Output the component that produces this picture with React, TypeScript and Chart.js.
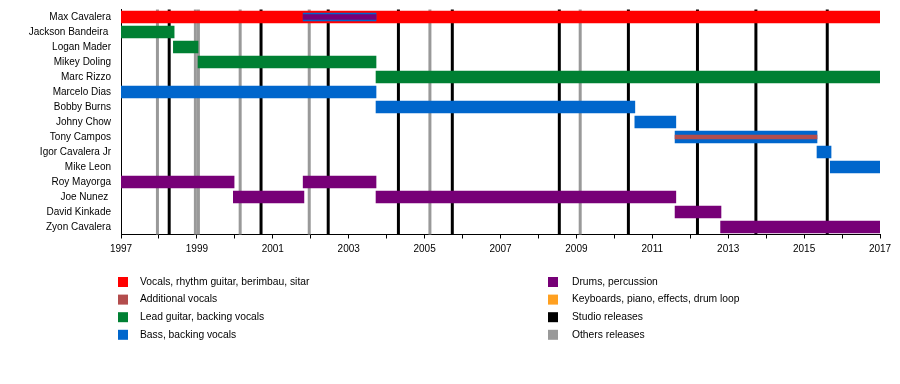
import React, { useEffect, useRef } from 'react';
import { Chart, registerables } from 'chart.js';

Chart.register(...registerables);

// ---------- data ----------
const members = [
  'Max Cavalera',
  'Jackson Bandeira ',
  'Logan Mader',
  'Mikey Doling',
  'Marc Rizzo',
  'Marcelo Dias',
  'Bobby Burns',
  'Johny Chow',
  'Tony Campos',
  'Igor Cavalera Jr',
  'Mike Leon',
  'Roy Mayorga',
  'Joe Nunez ',
  'David Kinkade',
  'Zyon Cavalera',
];

type Span = [string, number, number];

const vocalsSpans: Span[] = [['Max Cavalera', 1997, 2017]];
const additionalVocalsSpans: Span[] = [['Tony Campos', 2011.6, 2015.34]];
const leadGuitarSpans: Span[] = [
  ['Jackson Bandeira ', 1997, 1998.4],
  ['Logan Mader', 1998.38, 1999.03],
  ['Mikey Doling', 1999.03, 2003.72],
  ['Marc Rizzo', 2003.72, 2017],
];
const bassSpans: Span[] = [
  ['Marcelo Dias', 1997, 2003.72],
  ['Bobby Burns', 2003.72, 2010.54],
  ['Johny Chow', 2010.54, 2011.62],
  ['Tony Campos', 2011.6, 2015.34],
  ['Igor Cavalera Jr', 2015.34, 2015.71],
  ['Mike Leon', 2015.69, 2017],
];
const bassSecondarySpans: Span[] = [['Max Cavalera', 2001.8, 2003.72]];
const drumsSpans: Span[] = [
  ['Roy Mayorga', 1997, 1999.98],
  ['Roy Mayorga', 2001.8, 2003.72],
  ['Joe Nunez ', 1999.96, 2001.82],
  ['Joe Nunez ', 2003.72, 2011.62],
  ['David Kinkade', 2011.6, 2012.81],
  ['Zyon Cavalera', 2012.8, 2017],
];
const drumsSecondarySpans: Span[] = [['Max Cavalera', 2001.8, 2003.72]];

const studioReleases = [1998.27, 2000.69, 2002.46, 2004.31, 2005.73, 2008.55, 2010.37, 2012.19, 2013.73, 2015.61];
const otherReleases = [1997.96, 1998.96, 1999.04, 2000.14, 2001.96, 2005.14, 2009.1];

const xMin = 1997;
const xMax = 2017;

const legendLeft = [
  'Vocals, rhythm guitar, berimbau, sitar',
  'Additional vocals',
  'Lead guitar, backing vocals',
  'Bass, backing vocals',
];
const legendRight = [
  'Drums, percussion',
  'Keyboards, piano, effects, drum loop',
  'Studio releases',
  'Others releases',
];

// ---------- styles ----------
const C_VOCALS = '#FF0000';
const C_ADDVOC = '#B34D4D';
const C_GUITAR = '#008033';
const C_BASS = '#0066CC';
const C_DRUMS = '#770077';
const C_KEYS = '#FFA020';
const C_STUDIO = '#000000';
const C_OTHER = '#999999';

const roleColors: Record<string, string> = {
  'Vocals, rhythm guitar, berimbau, sitar': C_VOCALS,
  'Additional vocals': C_ADDVOC,
  'Lead guitar, backing vocals': C_GUITAR,
  'Bass, backing vocals': C_BASS,
  'Drums, percussion': C_DRUMS,
  'Keyboards, piano, effects, drum loop': C_KEYS,
  'Studio releases': C_STUDIO,
  'Others releases': C_OTHER,
};

const FONT = '"Liberation Sans", Arial, Helvetica, sans-serif';

const toData = (spans: Span[]) => spans.map(([m, s, e]) => ({ x: [s, e], y: m }));

const mkDataset = (label: string, spans: Span[], color: string, thickness: number, order: number) => ({
  label,
  data: toData(spans),
  backgroundColor: color,
  borderWidth: 0,
  borderSkipped: false,
  barThickness: thickness,
  grouped: false,
  order,
});

const releaseLinesPlugin = {
  id: 'releaseLines',
  beforeDatasetsDraw(chart: any) {
    const { ctx, chartArea, scales } = chart;
    const x = scales.x;
    ctx.save();
    ctx.lineWidth = 3;
    const draw = (years: number[], color: string) => {
      ctx.strokeStyle = color;
      years.forEach((yr) => {
        const px = x.getPixelForValue(yr);
        ctx.beginPath();
        ctx.moveTo(px, chartArea.top);
        ctx.lineTo(px, chartArea.bottom);
        ctx.stroke();
      });
    };
    draw(otherReleases, C_OTHER);
    draw(studioReleases, C_STUDIO);
    ctx.restore();
  },
};

const legendPlugin = {
  id: 'roleLegend',
  afterDraw(chart: any) {
    const { ctx } = chart;
    ctx.save();
    ctx.font = `10.3px ${FONT}`;
    ctx.textBaseline = 'middle';
    ctx.textAlign = 'left';
    const cols = [
      { items: legendLeft, sx: 118, tx: 140 },
      { items: legendRight, sx: 548, tx: 572 },
    ];
    cols.forEach((col) => {
      col.items.forEach((role, i) => {
        const y = 282 + i * 17.6;
        ctx.fillStyle = roleColors[role];
        ctx.fillRect(col.sx, y - 5, 10, 10);
        ctx.fillStyle = '#000';
        ctx.fillText(role, col.tx, y);
      });
    });
    ctx.restore();
  },
};

export default function App() {
  const ref = useRef<HTMLCanvasElement | null>(null);

  useEffect(() => {
    document.body.style.margin = '0';
    const canvas = ref.current;
    if (!canvas) return;
    const chart = new Chart(canvas, {
      type: 'bar',
      data: {
        labels: members,
        datasets: [
          mkDataset('Additional vocals', additionalVocalsSpans, C_ADDVOC, 4, 1),
          mkDataset('Drums (secondary)', drumsSecondarySpans, C_DRUMS, 5, 1),
          mkDataset('Bass (secondary)', bassSecondarySpans, C_BASS, 8, 2),
          mkDataset('Vocals, rhythm guitar, berimbau, sitar', vocalsSpans, C_VOCALS, 12, 3),
          mkDataset('Lead guitar, backing vocals', leadGuitarSpans, C_GUITAR, 12, 3),
          mkDataset('Bass, backing vocals', bassSpans, C_BASS, 12, 3),
          mkDataset('Drums, percussion', drumsSpans, C_DRUMS, 12, 3),
        ] as any,
      },
      options: {
        indexAxis: 'y',
        animation: false,
        responsive: false,
        maintainAspectRatio: false,
        events: [],
        layout: { padding: { top: 9.5, right: 20, bottom: 125.5, left: 0 } },
        scales: {
          x: {
            type: 'linear',
            min: xMin,
            max: xMax,
            ticks: {
              stepSize: 1,
              autoSkip: false,
              maxRotation: 0,
              padding: 5,
              color: '#000',
              font: { family: FONT, size: 10 },
              callback: (v: any) => (Number(v) % 2 === 1 ? String(v) : ''),
            },
            grid: { drawOnChartArea: false, drawTicks: true, tickLength: 4, tickColor: '#000', tickWidth: 1 },
            border: { display: true, color: '#000', width: 1 },
            afterFit: (s: any) => {
              s.height = 24;
              s.paddingLeft = 0;
              s.paddingRight = 0;
            },
          },
          y: {
            type: 'category',
            offset: true,
            ticks: {
              padding: 10,
              color: '#000',
              font: { family: FONT, size: 10 },
              autoSkip: false,
            },
            grid: { display: true, drawOnChartArea: false, drawTicks: false },
            border: { display: true, color: '#000', width: 1 },
            afterFit: (s: any) => {
              s.width = 121;
              s.paddingTop = 0;
              s.paddingBottom = 0;
            },
          },
        },
        plugins: {
          legend: { display: false },
          tooltip: { enabled: false },
          title: { display: false },
        },
      } as any,
      plugins: [releaseLinesPlugin, legendPlugin],
    });
    return () => chart.destroy();
  }, []);

  return (
    <div style={{ position: 'relative', width: 900, height: 384, background: '#fff' }}>
      <canvas ref={ref} width={900} height={384} style={{ display: 'block', width: 900, height: 384 }} />
    </div>
  );
}
